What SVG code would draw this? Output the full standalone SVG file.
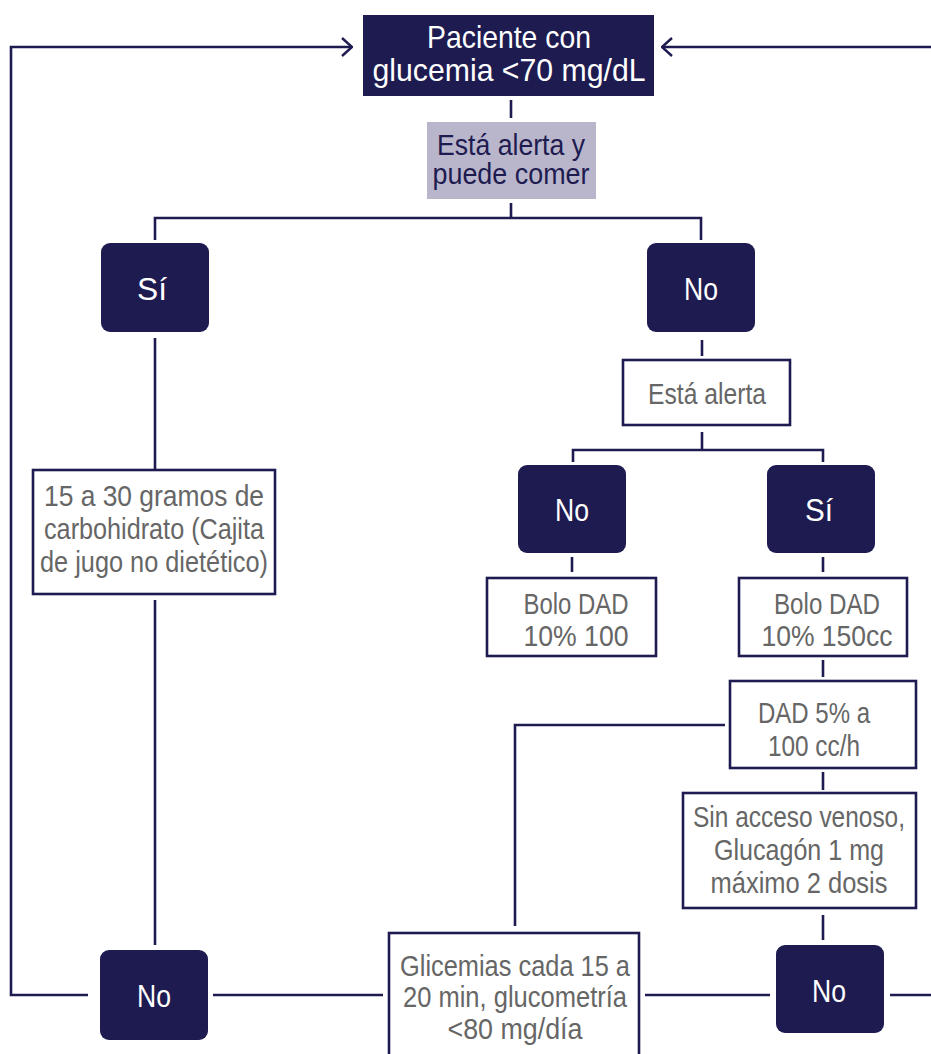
<svg xmlns="http://www.w3.org/2000/svg" width="931" height="1054" viewBox="0 0 931 1054">
  <style>
    .ln { fill: none; stroke: #1e1b50; stroke-width: 2.6; }
    .dark { fill: #1e1b50; }
    .hdr { fill: #ffffff; font-family: "Liberation Sans", Arial, sans-serif; font-size: 32px; text-anchor: middle; }
    .q { fill: #b9b6cc; }
    .qt { fill: #1e1b50; font-family: "Liberation Sans", Arial, sans-serif; font-size: 29px; text-anchor: middle; }
    .box { fill: #ffffff; stroke: #1e1b50; stroke-width: 2.6; }
    .bt { fill: #666666; font-family: "Liberation Sans", Arial, sans-serif; font-size: 30px; text-anchor: middle; }
    .yn { fill: #ffffff; font-family: "Liberation Sans", Arial, sans-serif; font-size: 32px; text-anchor: middle; }
  </style>
  <defs>
    <marker id="chev" viewBox="0 0 12 20" refX="11" refY="10" markerWidth="12" markerHeight="20" markerUnits="userSpaceOnUse" orient="auto">
      <path d="M1,1 L11,10 L1,19" fill="none" stroke="#1e1b50" stroke-width="2.4"/>
    </marker>
  </defs>
  <rect width="931" height="1054" fill="#ffffff"/>

  <!-- connectors -->
  <g id="connectors">
    <path class="ln" d="M88,995 H11 V47 H352" marker-end="url(#chev)"/>
    <path class="ln" d="M931,47 H662" marker-end="url(#chev)"/>
    <path class="ln" d="M511,100 V118"/>
    <path class="ln" d="M511,203 V218 M155,240 V218 H701 V240"/>
    <path class="ln" d="M155,338 V470"/>
    <path class="ln" d="M155,600 V945"/>
    <path class="ln" d="M702,340 V356"/>
    <path class="ln" d="M702,432 V450 M573,462 V450 H823 V462"/>
    <path class="ln" d="M572,557 V572"/>
    <path class="ln" d="M823,557 V572"/>
    <path class="ln" d="M823,660 V677"/>
    <path class="ln" d="M725,725 H515 V926"/>
    <path class="ln" d="M823,772 V790"/>
    <path class="ln" d="M823,915 V940"/>
    <path class="ln" d="M213,995 H383"/>
    <path class="ln" d="M645,995 H770"/>
    <path class="ln" d="M890,995 H931"/>
  </g>

  <!-- start -->
  <g id="start">
    <rect class="dark" x="363" y="15" width="291" height="81"/>
    <text class="hdr" x="509" y="48" textLength="164" lengthAdjust="spacingAndGlyphs">Paciente con</text>
    <text class="hdr" x="509" y="81" textLength="273" lengthAdjust="spacingAndGlyphs">glucemia &lt;70 mg/dL</text>
  </g>

  <g id="q-alerta-comer">
    <rect class="q" x="427" y="122" width="169" height="77"/>
    <text class="qt" x="511" y="155" textLength="148" lengthAdjust="spacingAndGlyphs">Está alerta y</text>
    <text class="qt" x="511" y="184" textLength="157" lengthAdjust="spacingAndGlyphs">puede comer</text>
  </g>

  <g id="si-1">
    <rect class="dark" x="101" y="243" width="108" height="89" rx="9"/>
    <text class="yn" x="152" y="300" textLength="30" lengthAdjust="spacingAndGlyphs">Sí</text>
  </g>

  <g id="no-1">
    <rect class="dark" x="647" y="243" width="108" height="89" rx="9"/>
    <text class="yn" x="701" y="300" textLength="34" lengthAdjust="spacingAndGlyphs">No</text>
  </g>

  <g id="carbohidrato">
    <rect class="box" x="33" y="470" width="242" height="124"/>
    <text class="bt" x="154" y="506" textLength="220" lengthAdjust="spacingAndGlyphs">15 a 30 gramos de</text>
    <text class="bt" x="154" y="539" textLength="220" lengthAdjust="spacingAndGlyphs">carbohidrato (Cajita</text>
    <text class="bt" x="154" y="572" textLength="228" lengthAdjust="spacingAndGlyphs">de jugo no dietético)</text>
  </g>

  <g id="q-alerta">
    <rect class="box" x="623" y="360" width="167" height="65"/>
    <text class="bt" x="707" y="404" textLength="118" lengthAdjust="spacingAndGlyphs">Está alerta</text>
  </g>

  <g id="no-2">
    <rect class="dark" x="518" y="465" width="108" height="88" rx="9"/>
    <text class="yn" x="572" y="521" textLength="34" lengthAdjust="spacingAndGlyphs">No</text>
  </g>

  <g id="si-2">
    <rect class="dark" x="767" y="465" width="108" height="88" rx="9"/>
    <text class="yn" x="819" y="521" textLength="28" lengthAdjust="spacingAndGlyphs">Sí</text>
  </g>

  <g id="bolo-100">
    <rect class="box" x="487" y="578" width="169" height="78"/>
    <text class="bt" x="576" y="614" textLength="105" lengthAdjust="spacingAndGlyphs">Bolo DAD</text>
    <text class="bt" x="576" y="646" textLength="105" lengthAdjust="spacingAndGlyphs">10% 100</text>
  </g>

  <g id="bolo-150">
    <rect class="box" x="739" y="578" width="168" height="78"/>
    <text class="bt" x="827" y="614" textLength="106" lengthAdjust="spacingAndGlyphs">Bolo DAD</text>
    <text class="bt" x="827" y="646" textLength="131" lengthAdjust="spacingAndGlyphs">10% 150cc</text>
  </g>

  <g id="dad-5">
    <rect class="box" x="730" y="681" width="186" height="87"/>
    <text class="bt" x="814" y="723" textLength="112" lengthAdjust="spacingAndGlyphs">DAD 5% a</text>
    <text class="bt" x="814" y="756" textLength="92" lengthAdjust="spacingAndGlyphs">100 cc/h</text>
  </g>

  <g id="glucagon">
    <rect class="box" x="683" y="793" width="233" height="115"/>
    <text class="bt" x="799" y="827" textLength="212" lengthAdjust="spacingAndGlyphs">Sin acceso venoso,</text>
    <text class="bt" x="799" y="860" textLength="170" lengthAdjust="spacingAndGlyphs">Glucagón 1 mg</text>
    <text class="bt" x="799" y="893" textLength="177" lengthAdjust="spacingAndGlyphs">máximo 2 dosis</text>
  </g>

  <g id="no-3">
    <rect class="dark" x="100" y="950" width="108" height="90" rx="9"/>
    <text class="yn" x="154" y="1007" textLength="34" lengthAdjust="spacingAndGlyphs">No</text>
  </g>

  <g id="glicemias">
    <rect class="box" x="389" y="933" width="250" height="130"/>
    <text class="bt" x="515" y="976" textLength="230" lengthAdjust="spacingAndGlyphs">Glicemias cada 15 a</text>
    <text class="bt" x="515" y="1007" textLength="224" lengthAdjust="spacingAndGlyphs">20 min, glucometría</text>
    <text class="bt" x="515" y="1039" textLength="135" lengthAdjust="spacingAndGlyphs">&lt;80 mg/día</text>
  </g>

  <g id="no-4">
    <rect class="dark" x="776" y="945" width="108" height="88" rx="9"/>
    <text class="yn" x="829" y="1002" textLength="34" lengthAdjust="spacingAndGlyphs">No</text>
  </g>
</svg>
